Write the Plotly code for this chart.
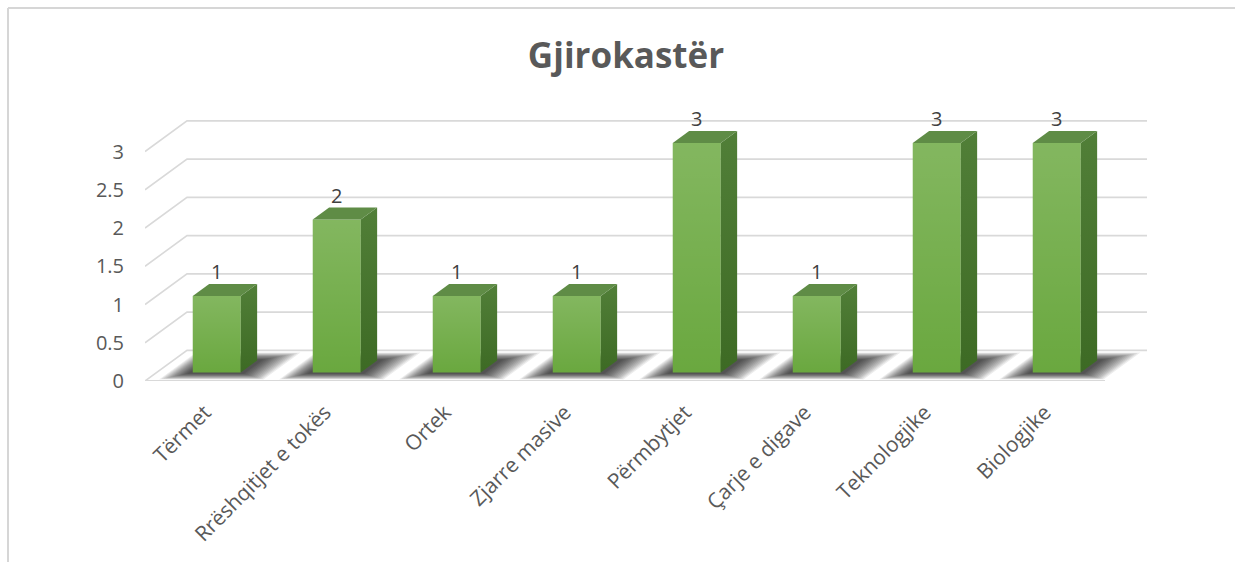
import plotly.graph_objects as go

# ---- data ----
categories = ["Tërmet", "Rrëshqitjet e tokës", "Ortek", "Zjarre masive",
              "Përmbytjet", "Çarje e digave", "Teknologjike", "Biologjike"]
values = [1, 2, 1, 1, 3, 1, 3, 3]
y_ticks = [0, 0.5, 1, 1.5, 2, 2.5, 3]
y_ticktext = ["0", "0.5", "1", "1.5", "2", "2.5", "3"]
title_text = "Gjirokastër"

# ---- layout geometry (pixels) ----
W, H = 1235, 562
PL, PW = 145, 1020
PB_PX = 381
PH = 300
CAT_PX, VAL_PX = 120.0, 76.5
XR = [0, PW / CAT_PX]
YR = [0, PH / VAL_PX]

# pseudo-3D depth vector (full depth) in data units
DX, DY = 0.35, 0.40
BAR_W = 0.40
D0, D1 = 0.28, 0.67          # bar front / back depth
n = len(categories)


def proj(x, d, y=0.0):
    """floor point (x, depth d) at height y -> plot coords"""
    return x + d * DX, y + d * DY


def path(pts):
    return "M " + " L ".join(f"{px:.4f},{py:.4f}" for px, py in pts) + " Z"


shapes = []
GRID = "#d9d9d9"
# back-wall gridlines with left diagonal
for v in y_ticks:
    shapes.append(dict(type="path", layer="below", xref="x", yref="y",
                       path=f"M 0,{v} L {DX},{v + DY} L {n + DX},{v + DY}",
                       line=dict(color=GRID, width=1.6)))
# front floor edge
shapes.append(dict(type="line", layer="below", xref="x", yref="y",
                   x0=0, y0=0, x1=n, y1=0, line=dict(color=GRID, width=1.8)))

# soft floor shadows (layered translucent polygons)
NL = 14
for i in range(n):
    for k in range(NL):
        t = k / (NL - 1)
        xa = i + 0.10 + (0.27 - 0.10) * t
        xb = i + 0.97 + (0.74 - 0.97) * t
        da = 0.05 + (0.24 - 0.05) * t
        db = 0.93 + (0.70 - 0.93) * t
        pts = [proj(xa, da), proj(xb, da), proj(xb, db), proj(xa, db)]
        shapes.append(dict(type="path", layer="below", xref="x", yref="y",
                           path=path(pts), line=dict(width=0),
                           fillcolor="rgba(0,0,0,0.075)"))

# document frame lines (decoration)
def px_to_paper_x(px):
    return (px - PL) / PW


def px_to_paper_y(py):
    return (PB_PX - py) / PH


shapes.append(dict(type="line", xref="paper", yref="paper",
                   x0=px_to_paper_x(8), y0=px_to_paper_y(8),
                   x1=px_to_paper_x(W), y1=px_to_paper_y(8),
                   line=dict(color="#d6d6d6", width=2)))
shapes.append(dict(type="line", xref="paper", yref="paper",
                   x0=px_to_paper_x(8), y0=px_to_paper_y(8),
                   x1=px_to_paper_x(8), y1=px_to_paper_y(H),
                   line=dict(color="#d6d6d6", width=2)))

fig = go.Figure()

# front faces as real bars
centers = [i + 0.5 + D0 * DX for i in range(n)]
fig.add_trace(go.Bar(x=centers, y=values, base=[D0 * DY] * n, width=BAR_W,
                     marker=dict(color="#6aa83f", line=dict(width=0)),
                     hoverinfo="skip", showlegend=False))

# front-face gradient sheen, side faces, top faces
for i, v in enumerate(values):
    xl = i + 0.5 - BAR_W / 2
    xr = i + 0.5 + BAR_W / 2
    fl = proj(xl, D0)
    fr = proj(xr, D0)
    br = proj(xr, D1)
    bl = proj(xl, D1)
    # sheen
    fx = [fl[0], fr[0], fr[0], fl[0], fl[0]]
    fy = [fl[1], fr[1], fr[1] + v, fl[1] + v, fl[1]]
    fig.add_trace(go.Scatter(x=fx, y=fy, mode="lines", fill="toself",
                             line=dict(width=0),
                             fillgradient=dict(type="vertical", colorscale=[
                                 [0, "rgba(255,255,255,0)"],
                                 [1, "rgba(255,255,255,0.17)"]]),
                             hoverinfo="skip", showlegend=False))
    # side face
    sx = [fr[0], br[0], br[0], fr[0], fr[0]]
    sy = [fr[1], br[1], br[1] + v, fr[1] + v, fr[1]]
    fig.add_trace(go.Scatter(x=sx, y=sy, mode="lines", fill="toself",
                             line=dict(width=0),
                             fillgradient=dict(type="vertical", colorscale=[
                                 [0, "#3d6a24"], [1, "#517f38"]]),
                             hoverinfo="skip", showlegend=False))
    # top face
    tx = [fl[0], fr[0], br[0], bl[0], fl[0]]
    ty = [fl[1] + v, fr[1] + v, br[1] + v, bl[1] + v, fl[1] + v]
    fig.add_trace(go.Scatter(x=tx, y=ty, mode="lines", fill="toself",
                             line=dict(width=0), fillcolor="#5f8c46",
                             hoverinfo="skip", showlegend=False))

# data labels
fig.add_trace(go.Scatter(
    x=centers, y=[v + D1 * DY for v in values],
    mode="text", text=[str(v) for v in values], textposition="top center",
    textfont=dict(family="Open Sans", size=20, color="#404040"),
    hoverinfo="skip", showlegend=False))

fig.update_layout(
    width=W, height=H,
    margin=dict(l=PL, r=W - PL - PW, t=PB_PX - PH, b=H - PB_PX),
    paper_bgcolor="white", plot_bgcolor="white",
    shapes=shapes,
    title=dict(text=f"<b>{title_text}</b>", x=626 / W, xanchor="center",
               xref="container", yref="container", y=1 - 56 / H, yanchor="middle",
               font=dict(family="Open Sans", size=35, color="#595959")),
    xaxis=dict(range=XR, tickvals=[i + 0.5 for i in range(n)], ticktext=categories,
               tickangle=-45, showgrid=False, zeroline=False, showline=False,
               ticks="", ticklabelstandoff=14,
               tickfont=dict(family="Open Sans", size=21, color="#595959"),
               fixedrange=True),
    yaxis=dict(range=YR, tickvals=y_ticks, ticktext=y_ticktext,
               showgrid=False, zeroline=False, showline=False, ticks="",
               ticklabelstandoff=20,
               tickfont=dict(family="Open Sans", size=20, color="#595959"),
               fixedrange=True),
    showlegend=False,
)

fig.write_html("out.html", config={"displayModeBar": False},
               post_script="document.body.style.margin='0px';")
